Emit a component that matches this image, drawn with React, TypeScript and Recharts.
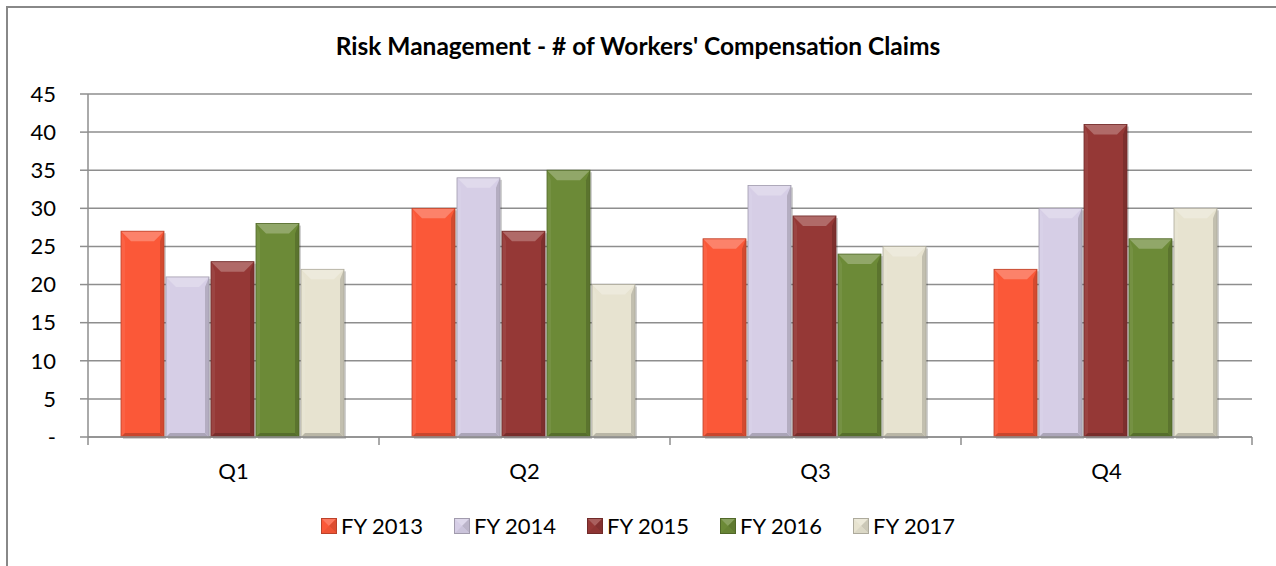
import { BarChart, Bar, XAxis, YAxis, CartesianGrid } from "recharts";

const quarters = ["Q1", "Q2", "Q3", "Q4"];
const fy2013 = [27, 30, 26, 22];
const fy2014 = [21, 34, 33, 30];
const fy2015 = [23, 27, 29, 41];
const fy2016 = [28, 35, 24, 26];
const fy2017 = [22, 20, 25, 30];
const yTicks = [0, 5, 10, 15, 20, 25, 30, 35, 40, 45];

const series = [
  { key: "fy2013", name: "FY 2013", color: "#FB5838", values: fy2013 },
  { key: "fy2014", name: "FY 2014", color: "#D6CEE6", values: fy2014 },
  { key: "fy2015", name: "FY 2015", color: "#953836", values: fy2015 },
  { key: "fy2016", name: "FY 2016", color: "#6C8A37", values: fy2016 },
  { key: "fy2017", name: "FY 2017", color: "#E7E3D0", values: fy2017 },
];

const data = quarters.map((q, i) => {
  const row: Record<string, string | number> = { quarter: q };
  series.forEach((s) => (row[s.key] = s.values[i]));
  return row;
});

const FONT = "Lato, 'Noto Sans', sans-serif";
const GRID = "#8E8E8E";

const shade = (hex: string, amt: number) => {
  const n = parseInt(hex.slice(1), 16);
  let r = (n >> 16) & 255, g = (n >> 8) & 255, b = n & 255;
  const f = (c: number) =>
    Math.round(amt >= 0 ? c + (255 - c) * amt : c * (1 + amt));
  r = f(r); g = f(g); b = f(b);
  return `rgb(${r},${g},${b})`;
};

const BevelBar = (props: any) => {
  const { x, y, width: w, height: h, fill } = props;
  if (!h || h <= 0) return null;
  const b = Math.min(10, h / 2, w / 2);
  const s = Math.min(4, w / 4);
  return (
    <g>
      <rect x={x + 2} y={y + 2} width={w} height={h} fill="#000" opacity={0.18} />
      <rect x={x} y={y} width={w} height={h} fill={fill} />
      <polygon
        points={`${x},${y} ${x + w},${y} ${x + w - b},${y + b} ${x + b},${y + b}`}
        fill={shade(fill, 0.25)}
      />
      <polygon
        points={`${x},${y} ${x + s},${y + b} ${x + s},${y + h - s} ${x},${y + h}`}
        fill={shade(fill, 0.06)}
      />
      <polygon
        points={`${x + w},${y} ${x + w - s},${y + b} ${x + w - s},${y + h - s} ${x + w},${y + h}`}
        fill={shade(fill, -0.16)}
      />
      <polygon
        points={`${x},${y + h} ${x + s},${y + h - s} ${x + w - s},${y + h - s} ${x + w},${y + h}`}
        fill={shade(fill, -0.2)}
      />
      <rect x={x} y={y} width={w} height={h} fill="none" stroke={shade(fill, -0.25)} strokeWidth={0.8} />
    </g>
  );
};

const LegendIcon = ({ color }: { color: string }) => (
  <svg width={16} height={16} style={{ display: "block" }}>
    <rect x={0} y={0} width={16} height={16} fill={color} />
    <polygon points="0,0 16,0 8,8" fill={shade(color, 0.2)} />
    <polygon points="16,0 16,16 8,8" fill={shade(color, -0.12)} />
    <polygon points="0,16 16,16 8,8" fill={shade(color, -0.05)} />
    <rect x={0.5} y={0.5} width={15} height={15} fill="none" stroke={shade(color, -0.25)} strokeWidth={1} />
  </svg>
);

const QuarterTick = (props: any) => {
  const { x, y, payload } = props;
  const half = 1164 / quarters.length / 2;
  return (
    <g>
      <line x1={x - half} y1={y - 8} x2={x - half} y2={y} stroke={GRID} strokeWidth={1.5} />
      {payload.index === quarters.length - 1 && (
        <line x1={x + half} y1={y - 8} x2={x + half} y2={y} stroke={GRID} strokeWidth={1.5} />
      )}
      <text x={x} y={y + 34} textAnchor="middle" fill="#000" fontSize={22} fontFamily={FONT}>
        {payload.value}
      </text>
    </g>
  );
};

const App = () => {
  return (
    <div style={{ position: "absolute", left: 0, top: 0, width: 1276, height: 566, background: "#fff", overflow: "hidden" }}>
      <div
        style={{
          position: "absolute",
          left: 6,
          top: 6,
          width: 1300,
          height: 600,
          borderLeft: "2px solid #888",
          borderTop: "2px solid #888",
        }}
      />
      <div
        style={{
          position: "absolute",
          left: 0,
          top: 31,
          width: 1276,
          textAlign: "center",
          fontFamily: FONT,
          fontWeight: 700,
          fontSize: 24.5,
          color: "#000",
        }}
      >
        Risk Management - # of Workers' Compensation Claims
      </div>
      <div style={{ position: "absolute", left: 0, top: 0 }}>
        <BarChart
          width={1276}
          height={566}
          data={data}
          margin={{ top: 94, right: 24, bottom: 89, left: 0 }}
          barCategoryGap={33}
          barGap={2}
        >
          <CartesianGrid vertical={false} stroke={GRID} strokeWidth={1.5} />
          <XAxis
            dataKey="quarter"
            height={40}
            stroke={GRID}
            strokeWidth={1.5}
            tickLine={false}
            tick={<QuarterTick />}
            interval={0}
          />
          <YAxis
            width={88}
            domain={[0, 45]}
            ticks={yTicks}
            interval={0}
            stroke={GRID}
            strokeWidth={1.5}
            tickSize={8}
            tickMargin={24}
            tickFormatter={(v: number) => (v === 0 ? "-" : String(v))}
            tick={{ fill: "#000", fontSize: 22, fontFamily: FONT }}
          />
          {series.map((s) => (
            <Bar
              key={s.key}
              dataKey={s.key}
              name={s.name}
              fill={s.color}
              shape={<BevelBar />}
              isAnimationActive={false}
            />
          ))}
        </BarChart>
      </div>
      <div
        style={{
          position: "absolute",
          left: 0,
          top: 512,
          width: 1276,
          display: "flex",
          justifyContent: "center",
          gap: 31,
          fontFamily: FONT,
          fontSize: 22,
          color: "#000",
        }}
      >
        {series.map((s) => (
          <div key={s.key} style={{ display: "flex", alignItems: "center", gap: 4 }}>
            <LegendIcon color={s.color} />
            <span>{s.name}</span>
          </div>
        ))}
      </div>
    </div>
  );
};

export default App;
